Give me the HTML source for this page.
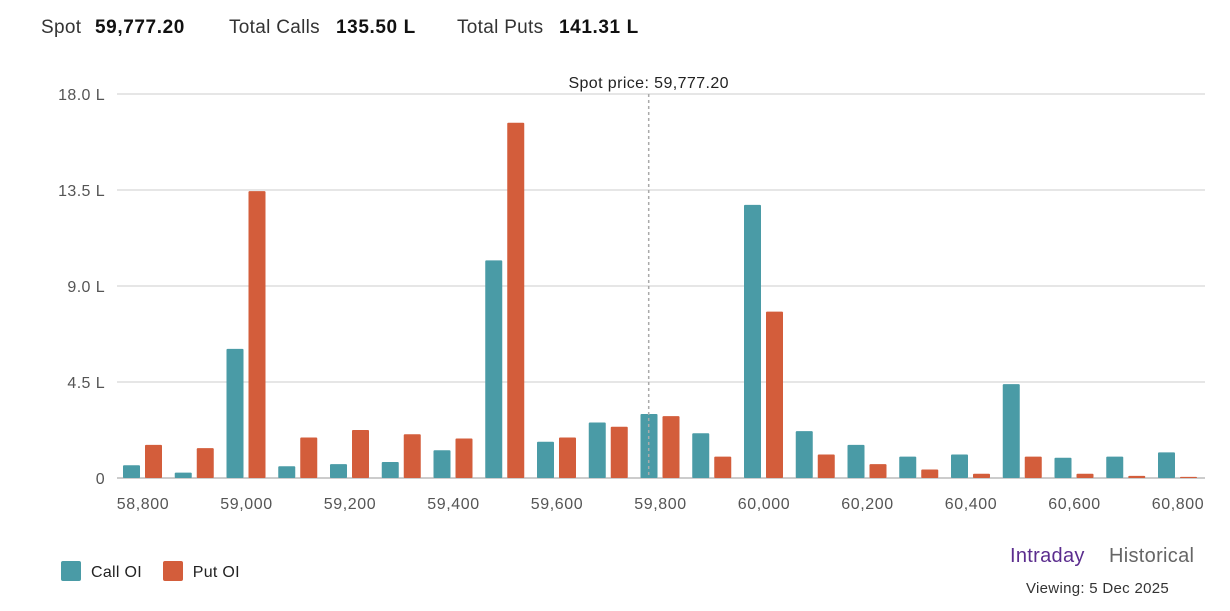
<!DOCTYPE html>
<html><head><meta charset="utf-8"><style>
body{margin:0;width:1230px;height:611px;background:#fff;font-family:"Liberation Sans",sans-serif;overflow:hidden;position:relative}
.h{position:absolute;top:17px;font-size:19px;color:#333;white-space:nowrap;letter-spacing:0.3px}
.h.b{color:#111;font-weight:bold;letter-spacing:0.6px}
.leg{position:absolute;top:561px;left:61px;font-size:16px;color:#222;letter-spacing:0.3px}
.sw{display:inline-block;width:20px;height:20px;vertical-align:-4px;margin-right:10px;border-radius:2px}
</style></head><body>
<div>
<span class="h" style="left:41px">Spot</span><span class="h b" style="left:95px">59,777.20</span>
<span class="h" style="left:229px">Total Calls</span><span class="h b" style="left:336px">135.50 L</span>
<span class="h" style="left:457px">Total Puts</span><span class="h b" style="left:559px">141.31 L</span></div>
<svg id="chart" width="1230" height="611" style="position:absolute;left:0;top:0"></svg>
<div class="leg">
<span><span class="sw" style="background:#4a9ba6"></span>Call OI</span>
<span style="margin-left:16px"><span class="sw" style="background:#d35d3b"></span>Put OI</span></div>
<span style="position:absolute;top:545px;left:1010px;font-size:20px;color:#5b2d8e;letter-spacing:0.3px">Intraday</span>
<span style="position:absolute;top:545px;left:1109px;font-size:20px;color:#666;letter-spacing:0.3px">Historical</span>
<div style="position:absolute;top:580px;left:1026px;font-size:15px;color:#333;letter-spacing:0.3px">Viewing: 5 Dec 2025</div>
<script>
const strikes=[58800,58900,59000,59100,59200,59300,59400,59500,59600,59700,59800,59900,60000,60100,60200,60300,60400,60500,60600,60700,60800];
const callOI=[0.6,0.25,6.05,0.55,0.65,0.75,1.3,10.2,1.7,2.6,3.0,2.1,12.8,2.2,1.55,1.0,1.1,4.4,0.95,1.0,1.2];
const putOI=[1.55,1.4,13.45,1.9,2.25,2.05,1.85,16.65,1.9,2.4,2.9,1.0,7.8,1.1,0.65,0.4,0.2,1.0,0.2,0.1,0.05];
const yTicks=[0,4.5,9.0,13.5,18.0];
const yTickLabels=["0","4.5 L","9.0 L","13.5 L","18.0 L"];
const spot=59777.20;
const svg=document.getElementById('chart');const NS='http://www.w3.org/2000/svg';
const x0=117,x1=1205,yBase=478,yTop=94;
const xs=s=>143+(s-strikes[0])/100*51.75;
const ys=v=>yBase-(v/18)*(yBase-yTop);
function mk(t,a,txt){const e=document.createElementNS(NS,t);for(const k in a)e.setAttribute(k,a[k]);if(txt!=null)e.textContent=txt;svg.appendChild(e);return e;}
yTicks.forEach((v,i)=>{
const g=mk('line',{x1:x0,x2:x1,y1:ys(v),y2:ys(v),stroke:v===0?'#999':'#ccc','stroke-width':1});

const t=mk('text',{x:105,y:ys(v)+6,'text-anchor':'end','font-size':16,fill:'#555','font-family':'Liberation Sans','letter-spacing':0.4},yTickLabels[i]);

});
strikes.forEach((s,i)=>{
const cx=xs(s);
const c=mk('rect',{x:cx-20,y:ys(callOI[i]),width:17,height:yBase-ys(callOI[i]),fill:'#4a9ba6',rx:1});

const p=mk('rect',{x:cx+2,y:ys(putOI[i]),width:17,height:yBase-ys(putOI[i]),fill:'#d35d3b',rx:1});

if(i%2===0){const t=mk('text',{x:cx,y:509,'text-anchor':'middle','font-size':16,fill:'#555','font-family':'Liberation Sans','letter-spacing':0.6},s.toLocaleString('en-US'));
}
});
const sx=xs(spot);
const sl=mk('line',{x1:sx,x2:sx,y1:94,y2:478,stroke:'#aaa','stroke-dasharray':'3,3','stroke-width':1.5});

const st=mk('text',{x:sx,y:88,'text-anchor':'middle','font-size':16,fill:'#222','font-family':'Liberation Sans','letter-spacing':0.4},'Spot price: '+spot.toLocaleString('en-US',{minimumFractionDigits:2}));

</script>
</body></html>
